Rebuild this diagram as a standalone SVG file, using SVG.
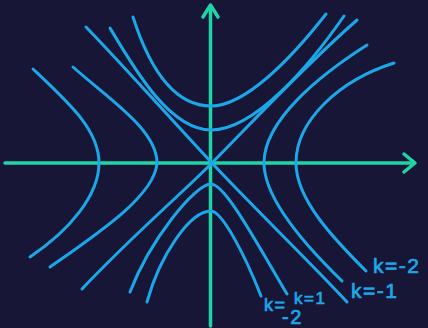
<svg xmlns="http://www.w3.org/2000/svg" width="428" height="328" viewBox="0 0 428 328">
  <style>
    .axis { fill: none; stroke: #20d4a6; stroke-width: 3.5; stroke-linecap: round; stroke-linejoin: round; }
    .curve { fill: none; stroke: #1ca7e8; stroke-width: 3; stroke-linecap: round; stroke-linejoin: round; }
    .lbl { fill: #1ca7e8; font-family: "Liberation Sans", "DejaVu Sans", sans-serif; stroke: #1ca7e8; stroke-width: 0.7; letter-spacing: 1.5px; }
  </style>
  <rect x="0" y="0" width="428" height="328" fill="#171636"/>
  <g id="axes">
    <line class="axis" x1="5" y1="163" x2="413" y2="163"/>
    <polyline class="axis" points="404,154 415,163 404,172"/>
    <line class="axis" x1="210.5" y1="6" x2="210.5" y2="326"/>
    <polyline class="axis" points="203,17 210.5,5 218,17"/>
  </g>
  <g id="curves">
    <path id="left-outer" class="curve" d="M33,69 C70,104 99,130 99,163 C99,195 70,230 30,257"/>
    <path id="left-inner" class="curve" d="M73,67 C110,100 157,130 157,163 C155,195 100,232 50,267"/>
    <path id="diag-a" class="curve" d="M86,27 C120,62 170,118 211,162 S310,262 347,302"/>
    <path id="diag-b" class="curve" d="M82,289 C130,238 180,195 211,164 S300,70 357,20"/>
    <path id="top-outer" class="curve" d="M133,17 C150,70 175,106 211,106 C245,106 290,60 326,14"/>
    <path id="top-inner" class="curve" d="M110,28 C135,70 170,130 211,130 C255,130 310,65 344,16"/>
    <path id="right-inner" class="curve" d="M367,45 C320,75 264,120 264,163 C264,200 310,250 342,281"/>
    <path id="right-outer" class="curve" d="M394,63 C340,80 296,120 296,163 C296,200 335,240 366,271"/>
    <path id="bottom-inner" class="curve" d="M130,292 C150,240 195,184 211,184 C225,184 255,240 287,294"/>
    <path id="bottom-outer" class="curve" d="M147,302 C160,255 190,211 211,211 C222,211 245,255 261,296"/>
  </g>
  <g id="labels">
    <text class="lbl" x="373" y="273" font-size="21">k=-2</text>
    <text class="lbl" x="351" y="298" font-size="21">k=-1</text>
    <text class="lbl" x="294" y="304" font-size="17">k=1</text>
    <text class="lbl" x="264" y="311" font-size="18">k=</text>
    <text class="lbl" x="282" y="324" font-size="20">-2</text>
  </g>
</svg>
